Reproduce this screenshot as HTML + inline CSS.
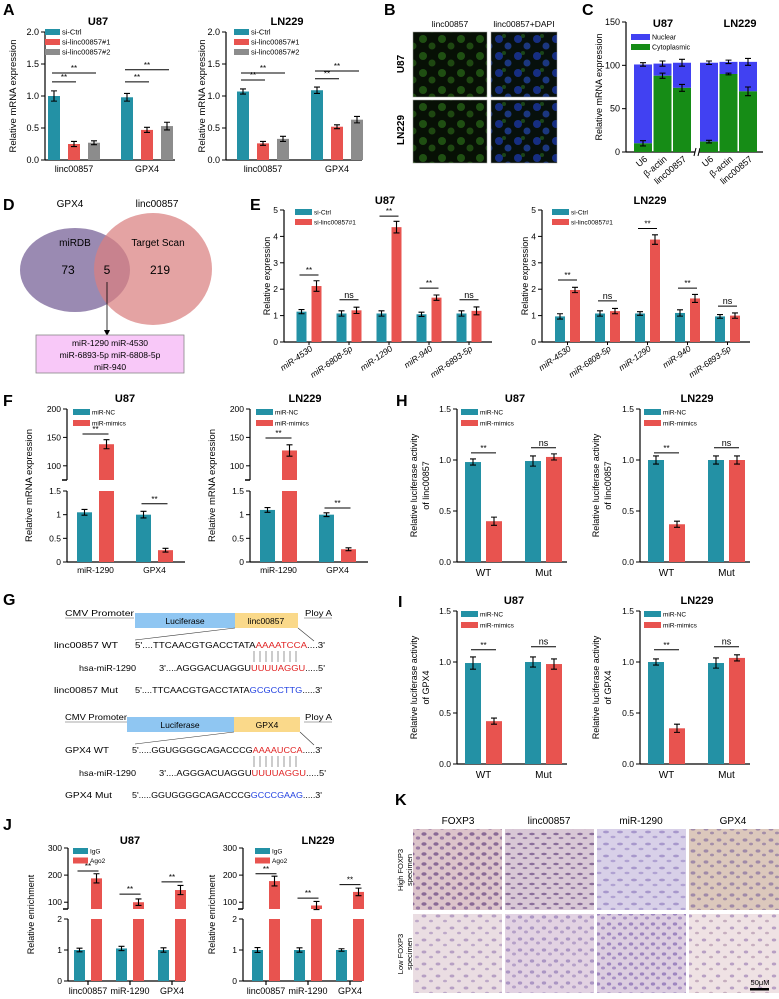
<!DOCTYPE html>
<html><head><meta charset="utf-8"><style>
html,body{margin:0;padding:0;background:#fff}
svg{display:block;font-family:"Liberation Sans",Arial,sans-serif}
</style></head><body>
<svg id="fig" width="779" height="999" viewBox="0 0 779 999" xmlns="http://www.w3.org/2000/svg">
<defs>
<pattern id="pG" width="19" height="17" patternUnits="userSpaceOnUse">
<rect width="19" height="17" fill="#071005"/>
<circle cx="5" cy="5" r="4" fill="#2a6a18" opacity=".7"/><circle cx="14" cy="12" r="3.5" fill="#3a8a1e" opacity=".45"/>
</pattern>
<pattern id="pGB" width="19" height="17" patternUnits="userSpaceOnUse">
<rect width="19" height="17" fill="#07100c"/>
<circle cx="5" cy="5" r="4" fill="#1a36a0" opacity=".8"/><circle cx="14" cy="12" r="3.5" fill="#2448b0" opacity=".7"/><circle cx="10" cy="2" r="2" fill="#2e7a26" opacity=".5"/>
</pattern>
<pattern id="pK1" width="12" height="10" patternUnits="userSpaceOnUse">
<rect width="12" height="10" fill="#dcc4cb"/><ellipse cx="4" cy="4" rx="2.6" ry="1.8" fill="#8a6a96"/><ellipse cx="10" cy="8" rx="2.2" ry="1.6" fill="#9a7aa4"/>
</pattern>
<pattern id="pK2" width="12" height="10" patternUnits="userSpaceOnUse">
<rect width="12" height="10" fill="#d9c8d6"/><ellipse cx="4" cy="4" rx="2.8" ry="1.2" fill="#8a6e9a"/><ellipse cx="9" cy="8" rx="2.4" ry="1.1" fill="#9b80a8"/>
</pattern>
<pattern id="pK3" width="14" height="12" patternUnits="userSpaceOnUse">
<rect width="14" height="12" fill="#d8d0e8"/><ellipse cx="4" cy="4" rx="3" ry="1.4" fill="#a898cc"/><ellipse cx="11" cy="9" rx="2.5" ry="1.2" fill="#b0a2d2"/>
</pattern>
<pattern id="pK4" width="13" height="11" patternUnits="userSpaceOnUse">
<rect width="13" height="11" fill="#dcc8bc"/><ellipse cx="4" cy="4" rx="2.4" ry="1.6" fill="#a08aa8"/><ellipse cx="10" cy="8" rx="2" ry="1.4" fill="#a48ea8"/>
</pattern>
<pattern id="pK5" width="14" height="12" patternUnits="userSpaceOnUse">
<rect width="14" height="12" fill="#eadde2"/><ellipse cx="4" cy="4" rx="2.4" ry="1.5" fill="#b7a0c4"/><ellipse cx="11" cy="9" rx="2" ry="1.3" fill="#bda8c8"/>
</pattern>
<pattern id="pK6" width="12" height="11" patternUnits="userSpaceOnUse">
<rect width="12" height="11" fill="#e2d2e2"/><ellipse cx="4" cy="4" rx="2.2" ry="1.6" fill="#ab96c4"/><ellipse cx="10" cy="8" rx="2" ry="1.5" fill="#b5a0c8"/>
</pattern>
<pattern id="pK7" width="11" height="10" patternUnits="userSpaceOnUse">
<rect width="11" height="10" fill="#dccde0"/><ellipse cx="4" cy="4" rx="2.2" ry="1.6" fill="#9e86c0"/><ellipse cx="9" cy="8" rx="2" ry="1.5" fill="#a890c4"/>
</pattern>
<pattern id="pK8" width="14" height="12" patternUnits="userSpaceOnUse">
<rect width="14" height="12" fill="#efe2e4"/><ellipse cx="4" cy="4" rx="2.2" ry="1.5" fill="#b8a0c4"/><ellipse cx="11" cy="9" rx="2" ry="1.3" fill="#c6aebf"/>
</pattern>
</defs>

<!-- panel letters -->
<g font-weight="bold" font-size="16" fill="#000">
<text x="3" y="15">A</text>
<text x="384" y="15">B</text>
<text x="582" y="15">C</text>
<text x="3" y="210">D</text>
<text x="250" y="210">E</text>
<text x="3" y="406">F</text>
<text x="396" y="406">H</text>
<text x="3" y="605">G</text>
<text x="398" y="607">I</text>
<text x="3" y="830">J</text>
<text x="395" y="805">K</text>
</g>

<!-- Panel B -->
<g>
<text x="450" y="27" font-size="8.5" text-anchor="middle">linc00857</text>
<text x="524" y="27" font-size="8.5" text-anchor="middle">linc00857+DAPI</text>
<text transform="translate(404,64) rotate(-90)" font-size="10" font-weight="bold" text-anchor="middle">U87</text>
<text transform="translate(404,130) rotate(-90)" font-size="10" font-weight="bold" text-anchor="middle">LN229</text>
<rect x="413" y="32" width="74" height="65" fill="url(#pG)" stroke="#999" stroke-width=".5"/>
<rect x="491" y="32" width="66" height="65" fill="url(#pGB)" stroke="#999" stroke-width=".5"/>
<rect x="413" y="100" width="74" height="63" fill="url(#pG)" stroke="#999" stroke-width=".5"/>
<rect x="491" y="100" width="66" height="63" fill="url(#pGB)" stroke="#999" stroke-width=".5"/>
</g>

<!-- Panel D -->
<g>
<text x="70" y="207" font-size="10" text-anchor="middle">GPX4</text>
<text x="157" y="207" font-size="10" text-anchor="middle">linc00857</text>
<ellipse cx="75" cy="270" rx="55" ry="42" fill="#9a8ab2"/>
<ellipse cx="153" cy="269" rx="59" ry="56" fill="#d98080" opacity=".72"/>
<text x="75" y="246" font-size="10" text-anchor="middle">miRDB</text>
<text x="158" y="246" font-size="10" text-anchor="middle">Target Scan</text>
<text x="68" y="274" font-size="12" text-anchor="middle">73</text>
<text x="107" y="274" font-size="12" text-anchor="middle">5</text>
<text x="160" y="274" font-size="12" text-anchor="middle">219</text>
<line x1="107" y1="282" x2="107" y2="332" stroke="#000" stroke-width=".8"/>
<path d="M104,330 L107,336 L110,330 Z" fill="#000"/>
<rect x="36" y="335" width="148" height="38" fill="#f8c8f8" stroke="#888" stroke-width=".8"/>
<text x="110" y="346" font-size="8.5" text-anchor="middle">miR-1290   miR-4530</text>
<text x="110" y="358" font-size="8.5" text-anchor="middle">miR-6893-5p  miR-6808-5p</text>
<text x="110" y="370" font-size="8.5" text-anchor="middle">miR-940</text>
</g>

<!-- Panel G -->
<g font-size="8.5" lengthAdjust="spacingAndGlyphs">
<text x="65" y="616" textLength="69" lengthAdjust="spacingAndGlyphs">CMV Promoter</text>
<line x1="65" y1="618" x2="134" y2="618" stroke="#555" stroke-width=".6"/>
<rect x="135" y="613" width="100" height="15" fill="#8fc6f2"/>
<text x="185" y="624" text-anchor="middle">Luciferase</text>
<rect x="235" y="613" width="63" height="15" fill="#fad98a"/>
<text x="266" y="624" text-anchor="middle">linc00857</text>
<text x="305" y="616" textLength="27" lengthAdjust="spacingAndGlyphs">Ploy A</text>
<line x1="304" y1="618" x2="332" y2="618" stroke="#555" stroke-width=".6"/>
<line x1="235" y1="628" x2="135" y2="640" stroke="#333" stroke-width=".6"/>
<line x1="298" y1="628" x2="314" y2="641" stroke="#333" stroke-width=".6"/>
<text x="54" y="648" textLength="64" lengthAdjust="spacingAndGlyphs">linc00857  WT</text>
<text x="135" y="648" textLength="190" lengthAdjust="spacingAndGlyphs">5'....TTCAACGTGACCTATA<tspan fill="#e02020">AAAATCCA</tspan>....3'</text>
<g stroke="#555" stroke-width=".6"><line x1="254" y1="651" x2="254" y2="662"/><line x1="260" y1="651" x2="260" y2="662"/><line x1="266" y1="651" x2="266" y2="662"/><line x1="272" y1="651" x2="272" y2="662"/><line x1="278" y1="651" x2="278" y2="662"/><line x1="284" y1="651" x2="284" y2="662"/><line x1="290" y1="651" x2="290" y2="662"/><line x1="296" y1="651" x2="296" y2="662"/></g>
<text x="79" y="671" textLength="57" lengthAdjust="spacingAndGlyphs">hsa-miR-1290</text>
<text x="159" y="671" textLength="166" lengthAdjust="spacingAndGlyphs">3'....AGGGACUAGGU<tspan fill="#e02020">UUUUAGGU</tspan>.....5'</text>
<text x="54" y="693" textLength="64" lengthAdjust="spacingAndGlyphs">linc00857  Mut</text>
<text x="135" y="693" textLength="187" lengthAdjust="spacingAndGlyphs">5'....TTCAACGTGACCTATA<tspan fill="#2040e0">GCGCCTTG</tspan>.....3'</text>

<text x="65" y="720" textLength="62" lengthAdjust="spacingAndGlyphs">CMV Promoter</text>
<line x1="65" y1="722" x2="127" y2="722" stroke="#555" stroke-width=".6"/>
<rect x="127" y="717" width="107" height="15" fill="#8fc6f2"/>
<text x="180" y="728" text-anchor="middle">Luciferase</text>
<rect x="234" y="717" width="66" height="15" fill="#fad98a"/>
<text x="267" y="728" text-anchor="middle">GPX4</text>
<text x="305" y="720" textLength="27" lengthAdjust="spacingAndGlyphs">Ploy A</text>
<line x1="304" y1="722" x2="332" y2="722" stroke="#555" stroke-width=".6"/>
<line x1="234" y1="732" x2="135" y2="744" stroke="#333" stroke-width=".6"/>
<line x1="300" y1="732" x2="314" y2="745" stroke="#333" stroke-width=".6"/>
<text x="65" y="753" textLength="44" lengthAdjust="spacingAndGlyphs">GPX4  WT</text>
<text x="132" y="753" textLength="190" lengthAdjust="spacingAndGlyphs">5'.....GGUGGGGCAGACCCG<tspan fill="#e02020">AAAAUCCA</tspan>.....3'</text>
<g stroke="#555" stroke-width=".6"><line x1="254" y1="756" x2="254" y2="767"/><line x1="260" y1="756" x2="260" y2="767"/><line x1="266" y1="756" x2="266" y2="767"/><line x1="272" y1="756" x2="272" y2="767"/><line x1="278" y1="756" x2="278" y2="767"/><line x1="284" y1="756" x2="284" y2="767"/><line x1="290" y1="756" x2="290" y2="767"/><line x1="296" y1="756" x2="296" y2="767"/></g>
<text x="79" y="776" textLength="57" lengthAdjust="spacingAndGlyphs">hsa-miR-1290</text>
<text x="159" y="776" textLength="167" lengthAdjust="spacingAndGlyphs">3'....AGGGACUAGGU<tspan fill="#e02020">UUUUAGGU</tspan>.....5'</text>
<text x="65" y="798" textLength="47" lengthAdjust="spacingAndGlyphs">GPX4  Mut</text>
<text x="132" y="798" textLength="190" lengthAdjust="spacingAndGlyphs">5'.....GGUGGGGCAGACCCG<tspan fill="#2040e0">GCCCGAAG</tspan>.....3'</text>
</g>

<!-- Panel K -->
<g>
<g font-size="10" text-anchor="middle">
<text x="458" y="824">FOXP3</text><text x="549" y="824">linc00857</text><text x="641" y="824">miR-1290</text><text x="733" y="824">GPX4</text>
</g>
<text transform="translate(403,870) rotate(-90)" font-size="7.5" text-anchor="middle">High FOXP3</text>
<text transform="translate(412,870) rotate(-90)" font-size="7.5" text-anchor="middle">specimen</text>
<text transform="translate(403,954) rotate(-90)" font-size="7.5" text-anchor="middle">Low FOXP3</text>
<text transform="translate(412,954) rotate(-90)" font-size="7.5" text-anchor="middle">specimen</text>
<rect x="413" y="829" width="89" height="81" fill="url(#pK1)"/>
<rect x="505" y="829" width="89" height="81" fill="url(#pK2)"/>
<rect x="597" y="829" width="89" height="81" fill="url(#pK3)"/>
<rect x="689" y="829" width="90" height="81" fill="url(#pK4)"/>
<rect x="413" y="914" width="89" height="79" fill="url(#pK5)"/>
<rect x="505" y="914" width="89" height="79" fill="url(#pK6)"/>
<rect x="597" y="914" width="89" height="79" fill="url(#pK7)"/>
<rect x="689" y="914" width="90" height="79" fill="url(#pK8)"/>
<text x="760" y="985" font-size="7.5" text-anchor="middle">50μM</text>
<rect x="750" y="988" width="19" height="2.5" fill="#000"/>
</g>
</svg>

<script>
// ---------- DATA ----------
const teal='#2391a5', red='#e8534f', gray='#8c8c8c';
// A
const aCats=['linc00857','GPX4'];
const aU87Ctrl=[1.0,0.98], aU87Ctrl_e=[0.08,0.06];
const aU87Si1=[0.25,0.47], aU87Si1_e=[0.04,0.04];
const aU87Si2=[0.27,0.53], aU87Si2_e=[0.03,0.06];
const aLNCtrl=[1.07,1.09], aLNCtrl_e=[0.04,0.05];
const aLNSi1=[0.26,0.52], aLNSi1_e=[0.03,0.03];
const aLNSi2=[0.33,0.63], aLNSi2_e=[0.04,0.05];
const aTicks=[0,0.5,1.0,1.5,2.0];
const aU87Sig=[[0,0,1,1.22,'**'],[0,0,2,1.36,'**'],[1,0,1,1.22,'**'],[1,0,2,1.41,'**']];
const aLNSig=[[0,0,1,1.25,'**'],[0,0,2,1.36,'**'],[1,0,1,1.27,'**'],[1,0,2,1.39,'**']];
// C
const cCats=['U6','β-actin','linc00857','U6','β-actin','linc00857'];
const cCyt=[10,88,74,12,90,70], cCyt_e=[3,3,4,1.5,1,5];
const cTot=[101,102,103,103,104,104], cTot_e=[2,3,4,2,2,4];
const cTicks=[0,50,100,150];
// E
const eCats=['miR-4530','miR-6808-5p','miR-1290','miR-940','miR-6893-5p'];
const eU87Ctrl=[1.15,1.08,1.08,1.05,1.08], eU87Ctrl_e=[0.08,0.1,0.1,0.08,0.1];
const eU87Si=[2.12,1.2,4.35,1.68,1.18], eU87Si_e=[0.2,0.12,0.22,0.1,0.15];
const eLNCtrl=[0.97,1.08,1.08,1.1,0.97], eLNCtrl_e=[0.1,0.1,0.07,0.12,0.07];
const eLNSi=[1.97,1.17,3.88,1.65,1.0], eLNSi_e=[0.1,0.1,0.18,0.15,0.1];
const eTicks=[0,1,2,3,4,5];
const eU87Sig=[[0,0,1,2.54,'**'],[1,0,1,1.6,'ns'],[2,0,1,4.77,'**'],[3,0,1,2.04,'**'],[4,0,1,1.6,'ns']];
const eLNSig=[[0,0,1,2.35,'**'],[1,0,1,1.56,'ns'],[2,0,1,4.3,'**'],[3,0,1,2.04,'**'],[4,0,1,1.36,'ns']];
// F
const fCats=['miR-1290','GPX4'];
const fU87NC=[1.05,1.0], fU87NC_e=[0.06,0.07];
const fU87Mim=[138,0.25], fU87Mim_e=[8,0.04];
const fLNNC=[1.1,1.0], fLNNC_e=[0.05,0.04];
const fLNMim=[127,0.27], fLNMim_e=[10,0.03];
const fTicksLow=[0,0.5,1.0,1.5], fTicksHigh=[100,150,200];
const fU87Sig=[[0,0,1,156,'**'],[1,0,1,1.23,'**']];
const fLNSig=[[0,0,1,149,'**'],[1,0,1,1.14,'**']];
// H
const hiCats=['WT','Mut'];
const hU87NC=[0.98,0.99], hU87NC_e=[0.03,0.05];
const hU87Mim=[0.40,1.03], hU87Mim_e=[0.04,0.03];
const hLNNC=[1.0,1.0], hLNNC_e=[0.04,0.04];
const hLNMim=[0.37,1.0], hLNMim_e=[0.03,0.04];
const hiTicks=[0,0.5,1.0,1.5];
const hSig=[[0,0,1,1.07,'**'],[1,0,1,1.12,'ns']];
// I
const iU87NC=[0.99,1.0], iU87NC_e=[0.06,0.05];
const iU87Mim=[0.42,0.98], iU87Mim_e=[0.03,0.05];
const iLNNC=[1.0,0.99], iLNNC_e=[0.03,0.05];
const iLNMim=[0.35,1.04], iLNMim_e=[0.04,0.03];
const iSig=[[0,0,1,1.12,'**'],[1,0,1,1.15,'ns']];
// J
const jCats=['linc00857','miR-1290','GPX4'];
const jU87IgG=[1.0,1.05,1.0], jU87IgG_e=[0.06,0.07,0.07];
const jU87Ago=[188,100,145], jU87Ago_e=[17,12,17];
const jLNIgG=[1.0,1.0,1.0], jLNIgG_e=[0.08,0.07,0.04];
const jLNAgo=[178,88,138], jLNAgo_e=[18,15,14];
const jTicksLow=[0,1,2], jTicksHigh=[100,200,300];
const jU87Sig=[[0,0,1,215,'**'],[1,0,1,130,'**'],[2,0,1,175,'**']];
const jLNSig=[[0,0,1,205,'**'],[1,0,1,115,'**'],[2,0,1,165,'**']];

// ---------- DRAWING ----------
const svg=document.getElementById('fig');
const NS='http://www.w3.org/2000/svg';
function mk(tag,attrs,parent){const e=document.createElementNS(NS,tag);for(const k in attrs)e.setAttribute(k,attrs[k]);(parent||svg).appendChild(e);return e;}
function makeY(segs){return v=>{for(const s of segs){if(v>=s.v0&&v<=s.v1)return s.p0+(v-s.v0)/(s.v1-s.v0)*(s.p1-s.p0);}const s=v<segs[0].v0?segs[0]:segs[segs.length-1];return s.p0+(v-s.v0)/(s.v1-s.v0)*(s.p1-s.p0);};}

function chart(sp){
  const g=mk('g',{});
  
  
  const y=makeY(sp.segs);
  const fs=sp.fs||8.5;
  sp.segs.forEach((s,si)=>{
    const ax=mk('line',{x1:sp.x0,y1:s.p0,x2:sp.x0,y2:s.p1,stroke:'#000','stroke-width':1.2},g);
    
    
    if(si>0) mk('line',{x1:sp.x0-5,y1:s.p0,x2:sp.x0,y2:s.p0,stroke:'#000','stroke-width':1.5},g);
    s.ticks.forEach(t=>{
      const yy=y(t);
      mk('line',{x1:sp.x0-4,y1:yy,x2:sp.x0,y2:yy,stroke:'#000','stroke-width':1},g);
      const tl=mk('text',{x:sp.x0-6,y:yy+3,'font-size':fs,'text-anchor':'end'},g);
      tl.textContent=sp.fmt?t.toFixed(1):String(t);
      
      
    });
  });
  const y0=y(0);
  const xa=mk('line',{x1:sp.x0,y1:y0,x2:sp.xEnd,y2:y0,stroke:'#000','stroke-width':1.2},g);
  
  
  const cx=(i,j)=>sp.barLeft+i*sp.groupStep+j*sp.barStep+sp.barW/2;
  sp.series.forEach((se,j)=>{
    se.vals.forEach((v,i)=>{
      const left=cx(i,j)-sp.barW/2;
      sp.segs.forEach(s=>{
        if(v>s.v0){
          const top=Math.min(v,s.v1);
          const yt=s.p0+(top-s.v0)/(s.v1-s.v0)*(s.p1-s.p0);
          const r=mk('rect',{x:left,y:yt,width:sp.barW,height:s.p0-yt,fill:se.color},g);
          
          
        }
      });
      const e=se.errs[i];
      const c=cx(i,j), yh=y(v+e), yl=y(v-e);
      mk('path',{d:`M${c},${yh}V${yl}M${c-3},${yh}H${c+3}M${c-3},${yl}H${c+3}`,stroke:'#000','stroke-width':1.1,fill:'none'},g);
    });
  });
  sp.cats.forEach((c,i)=>{
    const mid=(cx(i,0)+cx(i,sp.series.length-1))/2;
    let t;
    if(sp.rot){
      t=mk('text',{transform:`translate(${mid+4},${y0+8}) rotate(${sp.rot})`,'font-size':fs,'text-anchor':'end','font-style':'italic'},g);
      mk('line',{x1:mid,y1:y0,x2:mid,y2:y0+3,stroke:'#000'},g);
    } else {
      t=mk('text',{x:mid,y:y0+(sp.catDy||11),'font-size':sp.catFs||fs,'text-anchor':'middle'},g);
      if(sp.catTick) mk('line',{x1:mid,y1:y0,x2:mid,y2:y0+4,stroke:'#000','stroke-width':1.2},g);
    }
    t.textContent=c;
    
    
  });
  (sp.sig||[]).forEach(s=>{
    const xa1=cx(s[0],s[1])-2, xa2=cx(s[0],s[2])+2, yy=y(s[3]);
    mk('line',{x1:xa1,y1:yy,x2:xa2,y2:yy,stroke:'#000','stroke-width':1},g);
    const t=mk('text',{x:(xa1+xa2)/2,y:yy-2,'font-size':s[4]==='ns'?9:8,'text-anchor':'middle'},g);
    t.textContent=s[4];
    
    
  });
  if(sp.title){const t=mk('text',{x:sp.titleX,y:sp.titleY,'font-size':11,'font-weight':'bold','text-anchor':'middle'},g);t.textContent=sp.title;
    
    }
  const ym=(sp.segs[0].p0+sp.segs[sp.segs.length-1].p1)/2;
  sp.ytitle.forEach((line,k)=>{
    const t=mk('text',{transform:`translate(${sp.ytX+k*12},${ym}) rotate(-90)`,'font-size':sp.ytFs||9.5,'text-anchor':'middle'},g);
    t.textContent=line;
    
    
  });
  sp.series.forEach((se,j)=>{
    const ly=sp.legY+j*sp.legStep;
    const r=mk('rect',{x:sp.legX,y:ly-3,width:sp.legW||15,height:6,fill:se.color},g);
    
    
    const t=mk('text',{x:sp.legX+(sp.legW||15)+2,y:ly+2.5,'font-size':sp.legFs||7},g);
    t.textContent=se.label;
    
    
  });
}
const seg=(v0,v1,p0,p1,ticks)=>({v0,v1,p0,p1,ticks});

chart({name:'chart-a-u87',x0:45,xEnd:175,segs:[seg(0,2,160,32,aTicks)],fmt:1,fs:9,cats:aCats,barLeft:48,barW:12,barStep:20,groupStep:73,
 series:[{key:'ctrl',label:'si-Ctrl',vals:aU87Ctrl,errs:aU87Ctrl_e,color:teal},{key:'si1',label:'si-linc00857#1',vals:aU87Si1,errs:aU87Si1_e,color:red},{key:'si2',label:'si-linc00857#2',vals:aU87Si2,errs:aU87Si2_e,color:gray}],
 sig:aU87Sig,title:'U87',titleX:98,titleY:25,ytitle:['Relative mRNA expression'],ytX:16,legX:45,legY:32,legStep:10,legFs:7.5,catDy:12,catFs:9});
chart({name:'chart-a-ln229',x0:226,xEnd:362,segs:[seg(0,2,160,32,aTicks)],fmt:1,fs:9,cats:aCats,barLeft:237,barW:12,barStep:20,groupStep:74,
 series:[{key:'ctrl',label:'si-Ctrl',vals:aLNCtrl,errs:aLNCtrl_e,color:teal},{key:'si1',label:'si-linc00857#1',vals:aLNSi1,errs:aLNSi1_e,color:red},{key:'si2',label:'si-linc00857#2',vals:aLNSi2,errs:aLNSi2_e,color:gray}],
 sig:aLNSig,title:'LN229',titleX:287,titleY:25,ytitle:['Relative mRNA expression'],ytX:205,legX:234,legY:32,legStep:10,legFs:7.5,catDy:12,catFs:9});

(function(){
  const g=mk('g',{});
  
  
  const y=makeY([seg(0,150,152,22,cTicks)]);
  mk('line',{x1:626,y1:152,x2:626,y2:22,stroke:'#000','stroke-width':1.2},g);
  cTicks.forEach(t=>{mk('line',{x1:622,y1:y(t),x2:626,y2:y(t),stroke:'#000'},g);
    const tl=mk('text',{x:620,y:y(t)+3,'font-size':9,'text-anchor':'end'},g);tl.textContent=t;
    
    });
  mk('line',{x1:626,y1:152,x2:695,y2:152,stroke:'#000','stroke-width':1.2},g);
  mk('line',{x1:699,y1:152,x2:763,y2:152,stroke:'#000','stroke-width':1.2},g);
  mk('line',{x1:694,y1:156,x2:696,y2:148,stroke:'#000'},g);
  mk('line',{x1:698,y1:156,x2:700,y2:148,stroke:'#000'},g);
  const bw=18;
  const left=i=>634+(i%3)*19.5+Math.floor(i/3)*66;
  cCats.forEach((c,i)=>{
    const l=left(i), m=l+bw/2;
    const rb=mk('rect',{x:l,y:y(cTot[i]),width:bw,height:y(cCyt[i])-y(cTot[i]),fill:'#4141f2'},g);
    
    
    const rg=mk('rect',{x:l,y:y(cCyt[i]),width:bw,height:152-y(cCyt[i]),fill:'#168c16'},g);
    
    
    [[cTot[i],cTot_e[i]],[cCyt[i],cCyt_e[i]]].forEach(([v,e])=>{
      mk('path',{d:`M${m},${y(v+e)}V${y(v-e)}M${m-3},${y(v+e)}H${m+3}M${m-3},${y(v-e)}H${m+3}`,stroke:'#000','stroke-width':1.1,fill:'none'},g);
    });
    const t=mk('text',{transform:`translate(${m+5},${160}) rotate(-40)`,'font-size':9,'text-anchor':'end'},g);
    t.textContent=c;
    
    
  });
  const t1=mk('text',{x:663,y:27,'font-size':11,'font-weight':'bold','text-anchor':'middle'},g);t1.textContent='U87';
  const t2=mk('text',{x:740,y:27,'font-size':11,'font-weight':'bold','text-anchor':'middle'},g);t2.textContent='LN229';
  const yt=mk('text',{transform:'translate(602,87) rotate(-90)','font-size':9,'text-anchor':'middle'},g);yt.textContent='Relative mRNA expression';
  
  
  [['#4141f2','Nuclear',37],['#168c16','Cytoplasmic',47]].forEach(([c,l,ly])=>{
    mk('rect',{x:631,y:ly-3,width:19,height:6,fill:c},g);
    const t=mk('text',{x:652,y:ly+2.5,'font-size':7},g);t.textContent=l;
    
    
  });
})();

chart({name:'chart-e-u87',x0:284,xEnd:492,segs:[seg(0,5,342,210,eTicks)],fs:8.5,cats:eCats,rot:-35,barLeft:296.5,barW:10,barStep:15,groupStep:40,
 series:[{key:'ctrl',label:'si-Ctrl',vals:eU87Ctrl,errs:eU87Ctrl_e,color:teal},{key:'si',label:'si-linc00857#1',vals:eU87Si,errs:eU87Si_e,color:red}],
 sig:eU87Sig,title:'U87',titleX:385,titleY:204,ytitle:['Relative expression'],ytX:270,ytFs:9,legX:295,legY:212,legStep:10,legW:17,legFs:6.5});
chart({name:'chart-e-ln229',x0:542,xEnd:750,segs:[seg(0,5,342,210,eTicks)],fs:8.5,cats:eCats,rot:-35,barLeft:555,barW:10,barStep:15,groupStep:40,
 series:[{key:'ctrl',label:'si-Ctrl',vals:eLNCtrl,errs:eLNCtrl_e,color:teal},{key:'si',label:'si-linc00857#1',vals:eLNSi,errs:eLNSi_e,color:red}],
 sig:eLNSig,title:'LN229',titleX:650,titleY:204,ytitle:['Relative expression'],ytX:528,ytFs:9,legX:552,legY:212,legStep:10,legW:17,legFs:6.5});

chart({name:'chart-f-u87',x0:67,xEnd:185,segs:[seg(0,1.5,562,491,fTicksLow),seg(75,200,480,409,fTicksHigh)],fmt:0,fs:8.5,cats:fCats,barLeft:77,barW:15,barStep:22,groupStep:59,
 series:[{key:'nc',label:'miR-NC',vals:fU87NC,errs:fU87NC_e,color:teal},{key:'mim',label:'miR-mimics',vals:fU87Mim,errs:fU87Mim_e,color:red}],
 sig:fU87Sig,title:'U87',titleX:125,titleY:402,ytitle:['Relative mRNA expression'],ytX:32,legX:73,legY:412,legStep:11,legW:17,legFs:6.5});
chart({name:'chart-f-ln229',x0:250,xEnd:368,segs:[seg(0,1.5,562,491,fTicksLow),seg(75,200,480,409,fTicksHigh)],fmt:0,fs:8.5,cats:fCats,barLeft:260,barW:15,barStep:22,groupStep:59,
 series:[{key:'nc',label:'miR-NC',vals:fLNNC,errs:fLNNC_e,color:teal},{key:'mim',label:'miR-mimics',vals:fLNMim,errs:fLNMim_e,color:red}],
 sig:fLNSig,title:'LN229',titleX:305,titleY:402,ytitle:['Relative mRNA expression'],ytX:215,legX:256,legY:412,legStep:11,legW:17,legFs:6.5});

chart({name:'chart-h-u87',x0:457,xEnd:567,segs:[seg(0,1.5,562,409,hiTicks)],fmt:1,fs:8.5,cats:hiCats,catDy:14,catFs:10,barLeft:465,barW:16,barStep:21,groupStep:60,
 series:[{key:'nc',label:'miR-NC',vals:hU87NC,errs:hU87NC_e,color:teal},{key:'mim',label:'miR-mimics',vals:hU87Mim,errs:hU87Mim_e,color:red}],
 sig:hSig,title:'U87',titleX:515,titleY:402,ytitle:['Relative luciferase activity','of linc00857'],ytX:417,ytFs:9,legX:461,legY:412,legStep:11,legW:17,legFs:6.5});
chart({name:'chart-h-ln229',x0:640,xEnd:750,segs:[seg(0,1.5,562,409,hiTicks)],fmt:1,fs:8.5,cats:hiCats,catDy:14,catFs:10,barLeft:648,barW:16,barStep:21,groupStep:60,
 series:[{key:'nc',label:'miR-NC',vals:hLNNC,errs:hLNNC_e,color:teal},{key:'mim',label:'miR-mimics',vals:hLNMim,errs:hLNMim_e,color:red}],
 sig:hSig,title:'LN229',titleX:697,titleY:402,ytitle:['Relative luciferase activity','of linc00857'],ytX:599,ytFs:9,legX:644,legY:412,legStep:11,legW:17,legFs:6.5});

chart({name:'chart-i-u87',x0:457,xEnd:567,segs:[seg(0,1.5,764,611,hiTicks)],fmt:1,fs:8.5,cats:hiCats,catDy:14,catFs:10,barLeft:465,barW:16,barStep:21,groupStep:60,
 series:[{key:'nc',label:'miR-NC',vals:iU87NC,errs:iU87NC_e,color:teal},{key:'mim',label:'miR-mimics',vals:iU87Mim,errs:iU87Mim_e,color:red}],
 sig:iSig,title:'U87',titleX:514,titleY:604,ytitle:['Relative luciferase activity','of GPX4'],ytX:417,ytFs:9,legX:461,legY:614,legStep:11,legW:17,legFs:6.5});
chart({name:'chart-i-ln229',x0:640,xEnd:750,segs:[seg(0,1.5,764,611,hiTicks)],fmt:1,fs:8.5,cats:hiCats,catDy:14,catFs:10,barLeft:648,barW:16,barStep:21,groupStep:60,
 series:[{key:'nc',label:'miR-NC',vals:iLNNC,errs:iLNNC_e,color:teal},{key:'mim',label:'miR-mimics',vals:iLNMim,errs:iLNMim_e,color:red}],
 sig:iSig,title:'LN229',titleX:697,titleY:604,ytitle:['Relative luciferase activity','of GPX4'],ytX:599,ytFs:9,legX:644,legY:614,legStep:11,legW:17,legFs:6.5});

chart({name:'chart-j-u87',x0:68,xEnd:185,segs:[seg(0,2,981,919,jTicksLow),seg(75,300,909,848,jTicksHigh)],fs:8.5,cats:jCats,catTick:1,catDy:13,catFs:9,barLeft:74,barW:11,barStep:17,groupStep:42,
 series:[{key:'igg',label:'IgG',vals:jU87IgG,errs:jU87IgG_e,color:teal},{key:'ago2',label:'Ago2',vals:jU87Ago,errs:jU87Ago_e,color:red}],
 sig:jU87Sig,title:'U87',titleX:130,titleY:844,ytitle:['Relative enrichment'],ytX:34,ytFs:9,legX:73,legY:851,legStep:9.5,legW:15,legFs:6.5});
chart({name:'chart-j-ln229',x0:243,xEnd:362,segs:[seg(0,2,981,919,jTicksLow),seg(75,300,909,848,jTicksHigh)],fs:8.5,cats:jCats,catTick:1,catDy:13,catFs:9,barLeft:252,barW:11,barStep:17,groupStep:42,
 series:[{key:'igg',label:'IgG',vals:jLNIgG,errs:jLNIgG_e,color:teal},{key:'ago2',label:'Ago2',vals:jLNAgo,errs:jLNAgo_e,color:red}],
 sig:jLNSig,title:'LN229',titleX:318,titleY:844,ytitle:['Relative enrichment'],ytX:215,ytFs:9,legX:255,legY:851,legStep:9.5,legW:15,legFs:6.5});
</script>
</body></html>
